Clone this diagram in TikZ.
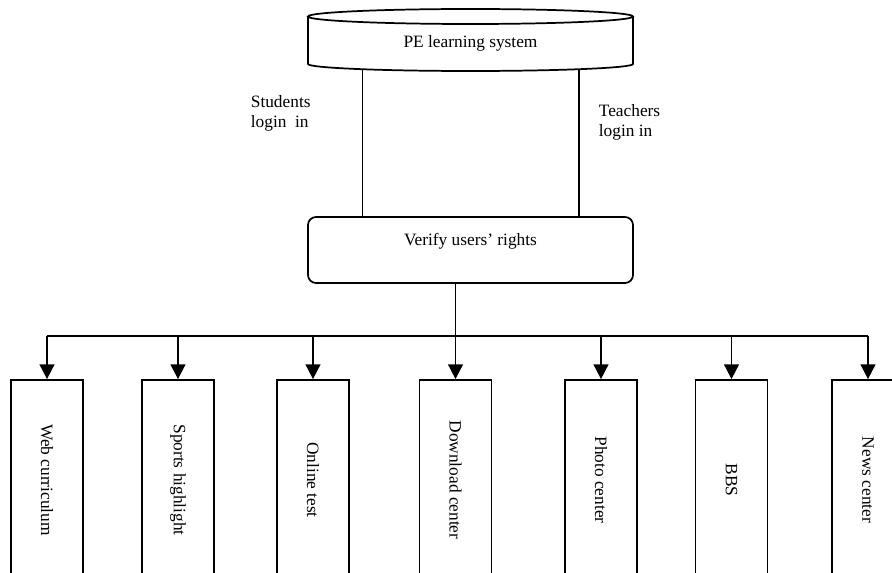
\documentclass[tikz,border=0pt]{standalone}
\usepackage{fontspec}
\setmainfont{Liberation Serif}
\usetikzlibrary{arrows.meta,calc}
\begin{document}
\begin{tikzpicture}[x=0.75pt,y=-0.75pt,
  line width=1.3pt,
  every node/.style={font=\fontsize{13}{15}\selectfont},
  module/.style={draw, minimum width=54pt, minimum height=150pt, inner sep=0pt},
  tag/.style={anchor=west, align=left, inner sep=0pt},
  arr/.style={-{Triangle[length=11pt,width=11pt]}},
]
\useasboundingbox (0,0) rectangle (892,573);
\clip (0,0) rectangle (892,573);

% database-style top element
\draw (308,16.5) -- (308,64) arc[start angle=180,end angle=0,x radius=162.5,y radius=7] -- (633,16.5);
\draw (470.5,16.5) ellipse[x radius=162.5, y radius=7.5];
\node (sys) at (470.5,43) {PE learning system};

% rights check
\node (verify) [draw, rounded corners=6pt, minimum width=243.75pt, minimum height=49.5pt] at (470.5,250) {};
\node (vlabel) at (470.5,241) {Verify users’ rights};

% login paths
\coordinate (sL) at (362.5,69.3);
\coordinate (sR) at (579,69.3);
\draw (sL) -- (sL |- verify.north);
\draw (sR) -- (sR |- verify.north);
\node[tag] (slab) at (250,113) {Students\\login~ in};
\node[tag] (tlab) at (598,122.5) {Teachers\\login in};

% modules
\node[module] (m1) at (47,480)  {\rotatebox{-90}{Web curriculum}};
\node[module] (m2) at (178,480) {\rotatebox{-90}{Sports highlight}};
\node[module] (m3) at (313,480) {\rotatebox{-90}{Online test}};
\node[module] (m4) at (455.5,480) {\rotatebox{-90}{Download center}};
\node[module] (m5) at (601,480) {\rotatebox{-90}{Photo center}};
\node[module] (m6) at (731.5,480) {\rotatebox{-90}{BBS}};
\node[module] (m7) at (868,480) {\rotatebox{-90}{News center}};

% distribution bus
\coordinate (bus) at (457,336);
\draw[arr] (verify.south -| m4.north) -- (m4.north);
\draw (m1.north |- bus) -- (m7.north |- bus);
\foreach \m in {m1,m2,m3,m5,m6,m7}
  \draw[arr] (\m.north |- bus) -- (\m.north);
\end{tikzpicture}
\end{document}
